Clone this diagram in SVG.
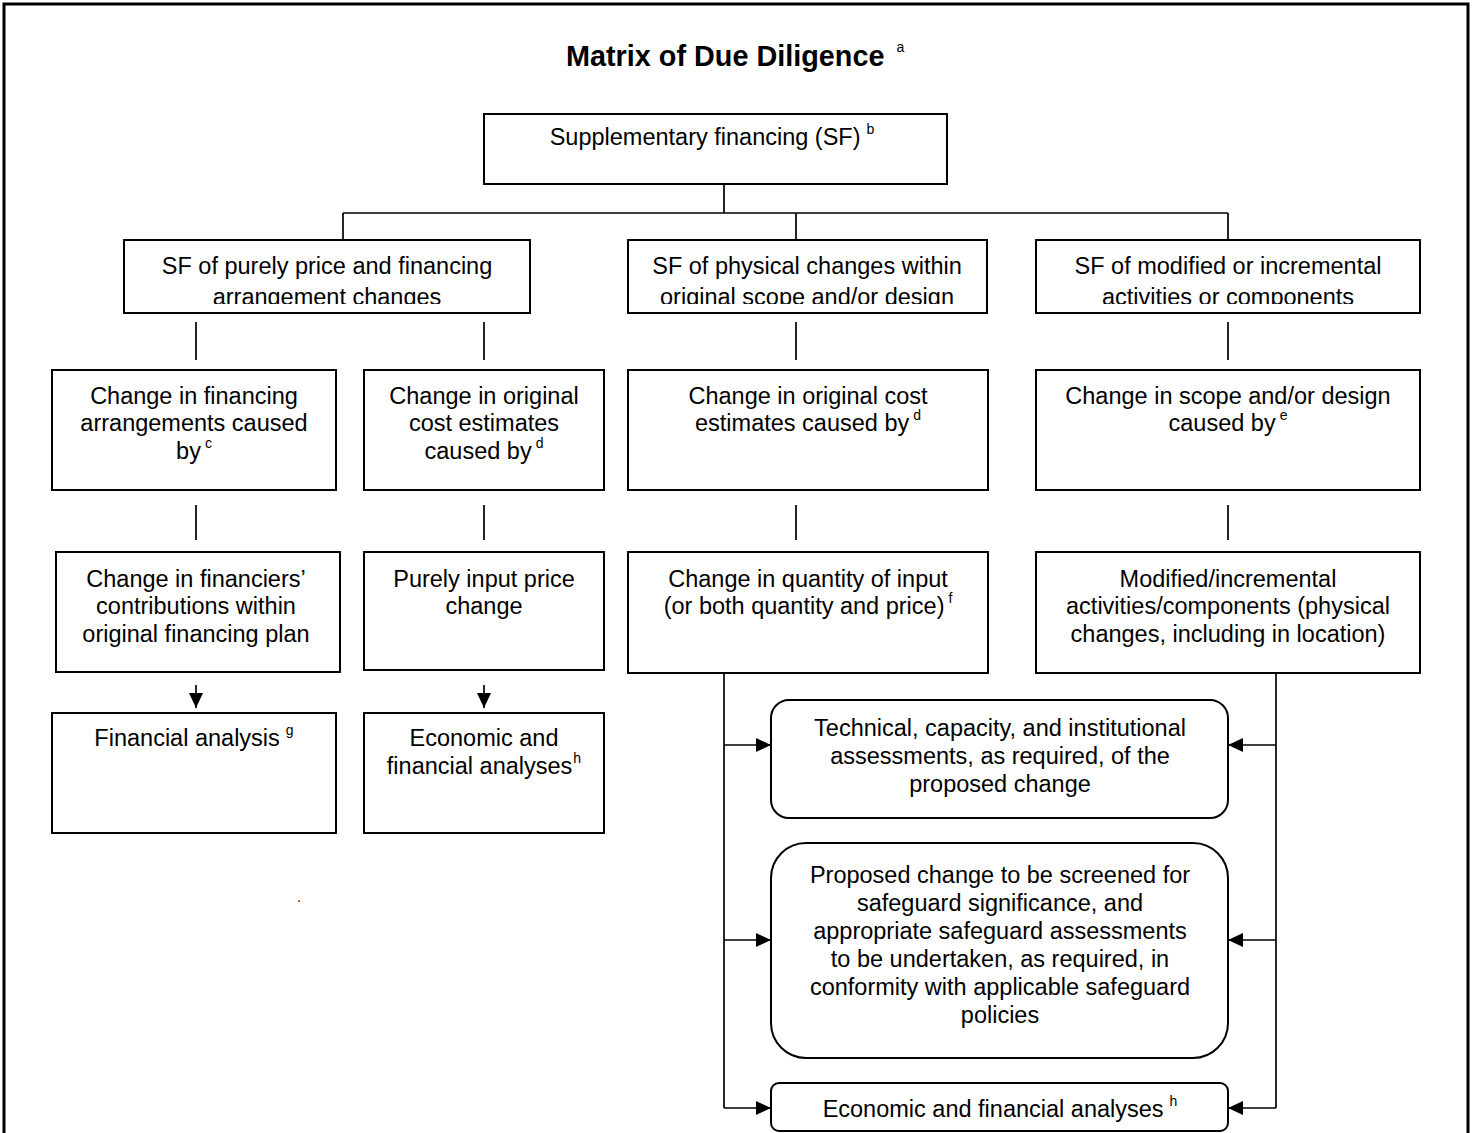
<svg xmlns="http://www.w3.org/2000/svg" width="1473" height="1133" viewBox="0 0 1473 1133">
<style>
.t{font-family:"Liberation Sans",Arial,sans-serif;font-size:23.5px;fill:#000;text-anchor:middle}
.ttl{font-family:"Liberation Sans",Arial,sans-serif;font-size:28.8px;font-weight:bold;fill:#000}
.sup{font-size:14px}
.box{fill:#fff;stroke:#000;stroke-width:2}
.ln{fill:none;stroke:#000;stroke-width:1.7}
</style>
<defs>
<marker id="ah" markerWidth="15" markerHeight="14" refX="15" refY="7" orient="auto" markerUnits="userSpaceOnUse">
<path d="M0,0 L15,7 L0,14 Z" fill="#000"/>
</marker>
<clipPath id="cA"><rect x="124" y="240" width="406" height="64"/></clipPath>
<clipPath id="cB"><rect x="628" y="240" width="359" height="64"/></clipPath>
<clipPath id="cC"><rect x="1036" y="240" width="384" height="64"/></clipPath>
</defs>
<rect width="1473" height="1133" fill="#fff"/>
<path d="M4,1133 V4 H1468 V1133" fill="none" stroke="#000" stroke-width="3"/>
<g id="title"><text class="ttl" x="566" y="66">Matrix of Due Diligence<tspan class="sup" font-weight="normal" dx="12" dy="-14">a</tspan></text></g>

<g id="connectors">
<path class="ln" d="M724,184 V213 M343,213 H1228 M343,213 V240 M796,213 V240 M1228,213 V240"/>
<path class="ln" d="M196,322 V360 M484,322 V360 M796,322 V360 M1228,322 V360"/>
<path class="ln" d="M196,505 V540 M484,505 V540 M796,505 V540 M1228,505 V540"/>
<path class="ln" d="M196,685 V708" marker-end="url(#ah)"/>
<path class="ln" d="M484,685 V708" marker-end="url(#ah)"/>
<path class="ln" d="M724,673 V1108"/>
<path class="ln" d="M724,745 H771" marker-end="url(#ah)"/>
<path class="ln" d="M724,940 H771" marker-end="url(#ah)"/>
<path class="ln" d="M724,1108 H771" marker-end="url(#ah)"/>
<path class="ln" d="M1276,673 V1108"/>
<path class="ln" d="M1276,745 H1228" marker-end="url(#ah)"/>
<path class="ln" d="M1276,940 H1228" marker-end="url(#ah)"/>
<path class="ln" d="M1276,1108 H1228" marker-end="url(#ah)"/>
</g>

<g id="n-sf"><rect class="box" x="484" y="114" width="463" height="70"/>
<text class="t" x="712" y="145">Supplementary financing (SF)<tspan class="sup" dx="6" dy="-11">b</tspan></text></g>

<g id="n-price"><rect class="box" x="124" y="240" width="406" height="73"/>
<text class="t" x="327" y="274">SF of purely price and financing</text>
<text class="t" x="327" y="305" clip-path="url(#cA)">arrangement changes</text></g>
<g id="n-physical"><rect class="box" x="628" y="240" width="359" height="73"/>
<text class="t" x="807" y="274">SF of physical changes within</text>
<text class="t" x="807" y="305" clip-path="url(#cB)">original scope and/or design</text></g>
<g id="n-modified"><rect class="box" x="1036" y="240" width="384" height="73"/>
<text class="t" x="1228" y="274">SF of modified or incremental</text>
<text class="t" x="1228" y="305" clip-path="url(#cC)">activities or components</text></g>

<g id="n-fin-arr"><rect class="box" x="52" y="370" width="284" height="120"/>
<text class="t" x="194" y="404">Change in financing</text>
<text class="t" x="194" y="431">arrangements caused</text>
<text class="t" x="194" y="459">by<tspan class="sup" dx="4" dy="-11">c</tspan></text></g>
<g id="n-cost1"><rect class="box" x="364" y="370" width="240" height="120"/>
<text class="t" x="484" y="404">Change in original</text>
<text class="t" x="484" y="431">cost estimates</text>
<text class="t" x="484" y="459">caused by<tspan class="sup" dx="4" dy="-11">d</tspan></text></g>
<g id="n-cost2"><rect class="box" x="628" y="370" width="360" height="120"/>
<text class="t" x="808" y="404">Change in original cost</text>
<text class="t" x="808" y="431">estimates caused by<tspan class="sup" dx="4" dy="-11">d</tspan></text></g>
<g id="n-scope"><rect class="box" x="1036" y="370" width="384" height="120"/>
<text class="t" x="1228" y="404">Change in scope and/or design</text>
<text class="t" x="1228" y="431">caused by<tspan class="sup" dx="4" dy="-11">e</tspan></text></g>

<g id="n-financiers"><rect class="box" x="56" y="552" width="284" height="120"/>
<text class="t" x="196" y="587">Change in financiers’</text>
<text class="t" x="196" y="614">contributions within</text>
<text class="t" x="196" y="642">original financing plan</text></g>
<g id="n-input-price"><rect class="box" x="364" y="552" width="240" height="118"/>
<text class="t" x="484" y="587">Purely input price</text>
<text class="t" x="484" y="614">change</text></g>
<g id="n-quantity"><rect class="box" x="628" y="552" width="360" height="121"/>
<text class="t" x="808" y="587">Change in quantity of input</text>
<text class="t" x="808" y="614">(or both quantity and price)<tspan class="sup" dx="4" dy="-11">f</tspan></text></g>
<g id="n-incremental"><rect class="box" x="1036" y="552" width="384" height="121"/>
<text class="t" x="1228" y="587">Modified/incremental</text>
<text class="t" x="1228" y="614">activities/components (physical</text>
<text class="t" x="1228" y="642">changes, including in location)</text></g>

<g id="n-fin-analysis"><rect class="box" x="52" y="713" width="284" height="120"/>
<text class="t" x="194" y="746">Financial analysis<tspan class="sup" dx="6" dy="-11">g</tspan></text></g>
<g id="n-econ1"><rect class="box" x="364" y="713" width="240" height="120"/>
<text class="t" x="484" y="746">Economic and</text>
<text class="t" x="484" y="774">financial analyses<tspan class="sup" dx="1" dy="-11">h</tspan></text></g>

<g id="n-technical"><rect class="box" x="771" y="700" width="457" height="118" rx="18"/>
<text class="t" x="1000" y="736">Technical, capacity, and institutional</text>
<text class="t" x="1000" y="764">assessments, as required, of the</text>
<text class="t" x="1000" y="792">proposed change</text></g>
<g id="n-safeguard"><rect class="box" x="771" y="843" width="457" height="215" rx="35"/>
<text class="t" x="1000" y="883">Proposed change to be screened for</text>
<text class="t" x="1000" y="911">safeguard significance, and</text>
<text class="t" x="1000" y="939">appropriate safeguard assessments</text>
<text class="t" x="1000" y="967">to be undertaken, as required, in</text>
<text class="t" x="1000" y="995">conformity with applicable safeguard</text>
<text class="t" x="1000" y="1023">policies</text></g>
<g id="n-econ2"><rect class="box" x="771" y="1083" width="457" height="48" rx="8"/>
<text class="t" x="1000" y="1117">Economic and financial analyses<tspan class="sup" dx="6" dy="-11">h</tspan></text></g>

<text x="299" y="902" font-family="Liberation Sans,Arial,sans-serif" font-size="14" text-anchor="middle">.</text>
</svg>
